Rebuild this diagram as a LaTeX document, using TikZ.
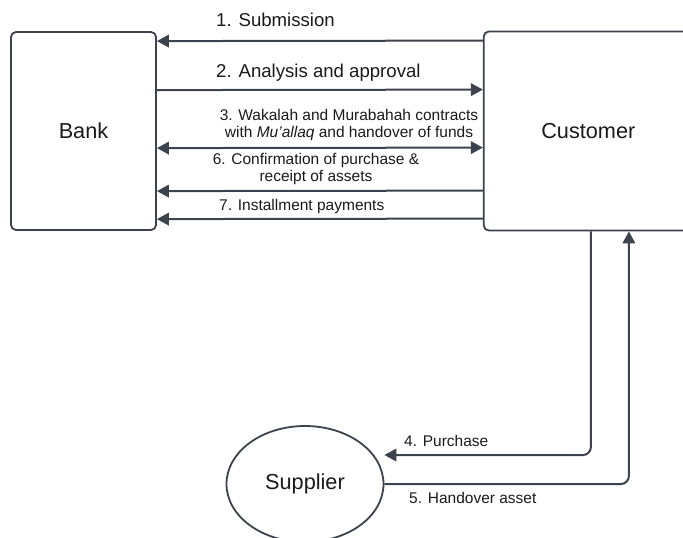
\documentclass[tikz,border=0pt]{standalone}
\usepackage{fontspec}
\setmainfont{Liberation Sans}
\usepackage{xcolor}
\usepackage{tikz}
\usetikzlibrary{positioning, shapes.geometric, arrows.meta}

\definecolor{linegray}{HTML}{3C434C}
\definecolor{textgray}{HTML}{1A1A1A}

\begin{document}
\begin{tikzpicture}[x=1pt, y=-1pt,
  party/.style={draw=linegray, line width=1.8pt, rounded corners=5pt, inner sep=0pt, font=\fontsize{21.7}{24}\selectfont, text=textgray},
  flow/.style={draw=linegray, line width=2pt, -{Triangle[length=12pt, width=12.5pt]}},
  biflow/.style={draw=linegray, line width=2pt, {Triangle[length=12pt, width=12.5pt]}-{Triangle[length=12pt, width=12.5pt]}},
  biglabel/.style={font=\fontsize{18.6}{21}\selectfont, text=textgray, inner sep=0pt},
  smalllabel/.style={font=\fontsize{15.5}{17}\selectfont, text=textgray, inner sep=0pt, align=center}]
\clip (0,0) rectangle (683,538);

\node[party, minimum width=145pt, minimum height=198pt] (bank) at (83.5,131) {Bank};
\node[party, minimum width=209pt, minimum height=199pt, right=326pt of bank] (customer) {Customer};
\node[party, ellipse, minimum width=157pt, minimum height=116pt] (supplier) at (305,484) {Supplier};

% bank <-> customer
\draw[flow] ([yshift=-10pt]customer.north west) -- ([yshift=-10pt]bank.north east);
\draw[flow] ([yshift=-59pt]bank.north east) -- ([yshift=-59pt]customer.north west);
\draw[biflow] ([yshift=-117pt]bank.north east) -- ([yshift=-117pt]customer.north west);
\draw[flow] ([yshift=-160pt]customer.north west) -- ([yshift=-160pt]bank.north east);
\draw[flow] ([yshift=-188pt]customer.north west) -- ([yshift=-188pt]bank.north east);

% customer <-> supplier
\draw[flow, rounded corners=8pt] ([xshift=108pt]customer.south west) |- ([yshift=29pt]supplier.east);
\draw[flow, rounded corners=8pt] (supplier.east) -| ([xshift=146pt]customer.south west);

\node[biglabel, anchor=west] (submission) at (216,20) {1. Submission};
\node[biglabel, anchor=west] (approval) at (216,73) {2. Analysis and approval};
\node[smalllabel] (contracts) at (349,125) {3. Wakalah and Murabahah contracts\\with {\itshape Mu’allaq} and handover of funds};
\node[smalllabel] (confirm) at (316,169) {6. Confirmation of purchase \&\\receipt of assets};
\node[smalllabel, anchor=west] (installment) at (219,206) {7. Installment payments};
\node[smalllabel, anchor=west] (purchase) at (404,441) {4. Purchase};
\node[smalllabel, anchor=west] (handover) at (409,498) {5. Handover asset};
\end{tikzpicture}
\end{document}
